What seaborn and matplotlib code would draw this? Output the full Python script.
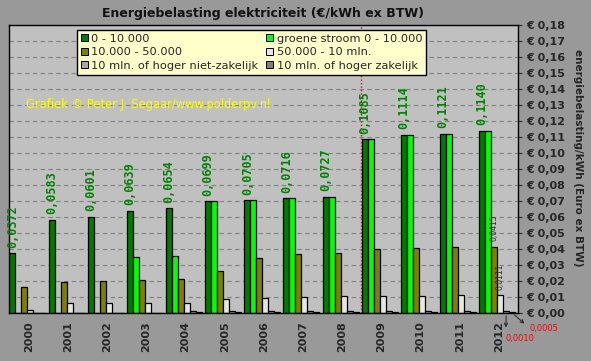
import matplotlib
matplotlib.use("Agg")
import matplotlib.pyplot as plt
from matplotlib.patches import Patch
import seaborn as sns
import pandas as pd

# data
jaren = [str(j) for j in range(2000, 2013)]
cat_0_10k = [0.0372, 0.0583, 0.0601, 0.0639, 0.0654, 0.0699, 0.0705, 0.0716, 0.0727,
             0.1085, 0.1114, 0.1121, 0.1140]
groene_stroom = [0, 0, 0, 0.0348, 0.0356, 0.0699, 0.0705, 0.0716, 0.0727,
                 0.1085, 0.1114, 0.1121, 0.1140]
cat_10k_50k = [0.0165, 0.0194, 0.0200, 0.0208, 0.0212, 0.0262, 0.0345, 0.0370, 0.0376,
               0.0400, 0.0408, 0.0411, 0.0415]
cat_50k_10m = [0.0019, 0.0062, 0.0062, 0.0062, 0.0062, 0.0087, 0.0095, 0.0101, 0.0107,
               0.0108, 0.0108, 0.0110, 0.0111]
cat_10m_niet_zak = [0, 0, 0, 0, 0.0010, 0.0010, 0.0010, 0.0010, 0.0010,
                    0.0010, 0.0010, 0.0010, 0.0010]
cat_10m_zak = [0, 0, 0, 0, 0.0005, 0.0005, 0.0005, 0.0005, 0.0005,
               0.0005, 0.0005, 0.0005, 0.0005]

categorieen = ["0 - 10.000", "groene stroom 0 - 10.000", "10.000 - 50.000",
               "50.000 - 10 mln.", "10 mln. of hoger niet-zakelijk", "10 mln. of hoger zakelijk"]
kleuren = ["#007a00", "#00ff00", "#808000", "#e6e6e6", "#a8a8a8", "#808080"]
reeksen = [cat_0_10k, groene_stroom, cat_10k_50k, cat_50k_10m, cat_10m_niet_zak, cat_10m_zak]

rows = []
for cat, vals in zip(categorieen, reeksen):
    for j, v in zip(jaren, vals):
        rows.append({"jaar": j, "categorie": cat, "waarde": v})
df = pd.DataFrame(rows)

sns.set_style("white")
plt.rcParams["font.family"] = ["DejaVu Sans"]

fig = plt.figure(figsize=(5.91, 3.61), dpi=100, facecolor="#999999")
ax = fig.add_axes([9 / 591, 48 / 361, 509 / 591, 288 / 361])
ax.set_facecolor("#c0c0c0")

sns.barplot(data=df, x="jaar", y="waarde", hue="categorie", hue_order=categorieen,
            palette=kleuren, width=0.92, edgecolor="black", linewidth=0.9,
            saturation=1, ax=ax, legend=False)

# groepen beginnen op de tick, kleine ruimte rechts
ax.set_xlim(-0.47, 12.53)
ax.set_ylim(0, 0.18)
ax.set_yticks([i / 100 for i in range(19)])
ax.set_yticklabels(["€ 0,%02d" % i for i in range(19)], fontsize=8, fontweight="bold")
ax.yaxis.tick_right()
ax.tick_params(axis="y", direction="out", length=3, width=0.8, pad=3)
ax.grid(axis="y", color="#808080", linestyle=(0, (4, 3)), linewidth=0.8)
ax.set_axisbelow(True)

ax.set_xticks([i - 0.47 for i in range(14)])
ax.set_xticklabels([])
ax.set_xticks([i + 0.04 for i in range(13)], minor=True)
ax.set_xticklabels(jaren, minor=True, rotation=90, fontsize=8, fontweight="bold")
ax.tick_params(axis="x", which="major", direction="out", length=4, width=0.8)
ax.tick_params(axis="x", which="minor", length=0, pad=6)
ax.set_xlabel("")
ax.set_ylabel("energiebelasting/kWh (Euro ex BTW)", fontsize=7.5, fontweight="bold",
              rotation=270, va="center")
ax.yaxis.set_label_coords(1.118, 0.54)

for s in ax.spines.values():
    s.set_color("black")
    s.set_linewidth(1)

# rode stippellijn tussen 2008 en 2009
ax.axvline(8.53, color="red", linestyle=(0, (1, 1.5)), linewidth=1, zorder=1)

# labels boven de bars
ax.bar_label(ax.containers[0], labels=[("%.4f" % v).replace(".", ",") for v in cat_0_10k],
             rotation=90, padding=4, color="#008200", fontsize=8.5,
             fontweight="bold", family="DejaVu Sans Mono")
ax.bar_label(ax.containers[2], labels=[""] * 12 + ["0,0415"], rotation=90,
             padding=4, fontsize=5.5)
ax.bar_label(ax.containers[3], labels=[""] * 12 + ["0,0111"], rotation=90,
             padding=4, fontsize=5.5)

x4 = ax.containers[4][12].get_x() + ax.containers[4][12].get_width() / 2
x5 = ax.containers[5][12].get_x() + ax.containers[5][12].get_width() / 2
ax.annotate("0,0010", xy=(x4, 0), xytext=(10, -18), textcoords="offset points",
            color="red", fontsize=6, ha="center", va="center", annotation_clip=False,
            arrowprops=dict(arrowstyle="<-", color="#222222", lw=0.7,
                            relpos=(0.0, 1.0), shrinkB=2))
ax.annotate("0,0005", xy=(x5, 0), xytext=(23, -11), textcoords="offset points",
            color="red", fontsize=6, ha="center", va="center", annotation_clip=False,
            arrowprops=dict(arrowstyle="<-", color="#222222", lw=0.7,
                            relpos=(0.0, 0.5), shrinkB=2))

# legenda (rij-gewijs zoals origineel)
handles = [Patch(facecolor=c, edgecolor="black", linewidth=0.7) for c in kleuren]
volgorde = [0, 2, 4, 1, 3, 5]
leg = ax.legend([handles[i] for i in volgorde], [categorieen[i] for i in volgorde],
                ncol=2, loc="upper left", bbox_to_anchor=(0.1336, 0.983),
                borderaxespad=0, fontsize=8.2, frameon=True, fancybox=False,
                framealpha=1, facecolor="#ffffcc", edgecolor="black",
                handlelength=0.6, handleheight=0.6, handletextpad=0.3,
                columnspacing=0.7, labelspacing=0.3, borderpad=0.35)
leg.get_frame().set_linewidth(1)

ax.text(0.033, 0.725, "Grafiek © Peter J. Segaar/www.polderpv.nl", transform=ax.transAxes,
        color="#ffff00", fontsize=8.3, va="center")

fig.text(263 / 591, 1 - 13 / 361, "Energiebelasting elektriciteit (€/kWh ex BTW)",
         ha="center", va="center", fontsize=9, fontweight="bold", color="#111111")

fig.savefig("out.png", dpi=100, facecolor=fig.get_facecolor())
